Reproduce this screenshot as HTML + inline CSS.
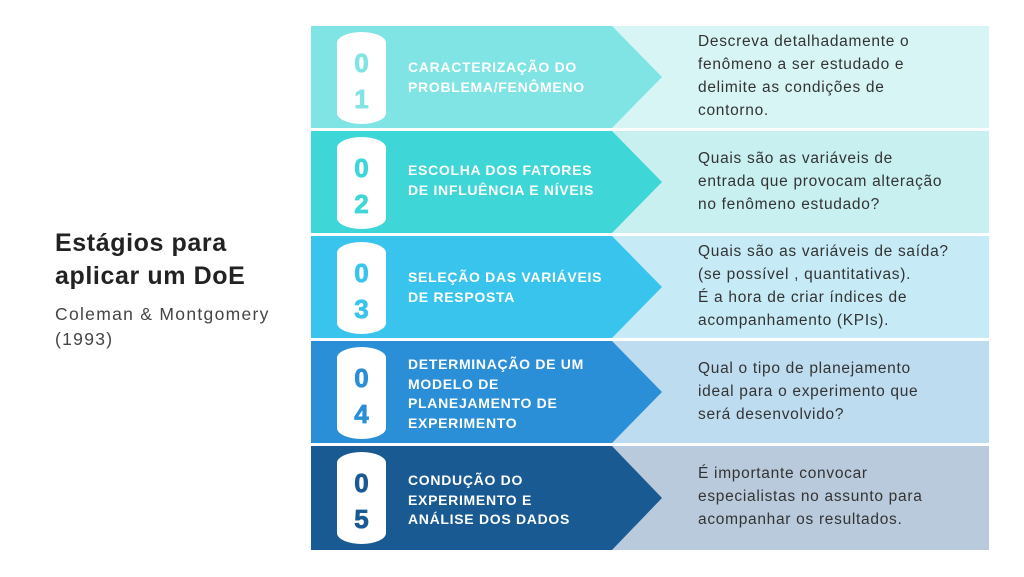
<!DOCTYPE html>
<html><head><meta charset="utf-8"><style>
body{margin:0;width:1024px;height:577px;background:#fff;position:relative;overflow:hidden;font-family:"Liberation Sans",sans-serif}
.a{position:absolute}
.row{position:absolute;left:311px;width:678px;height:102px}
.rp{position:absolute;left:0;top:0;width:678px;height:102px}
.arr{position:absolute;left:0;top:0;width:352px;height:102px;clip-path:polygon(0 0,301px 0,351px 51px,301px 102px,0 102px)}
.pill{position:absolute;left:26px;top:6px;width:49px;height:92px;background:#fff;border-radius:50% / 11px}
.pill span{position:absolute;left:0;width:49px;text-align:center;font-weight:900;font-size:26px;-webkit-text-stroke:0.8px currentColor}
.t{position:absolute;left:97px;color:#fff;font-weight:bold;font-size:14px;line-height:19.5px;letter-spacing:0.7px}
.d{position:absolute;left:387px;color:#333;font-size:15.5px;line-height:23px;letter-spacing:0.7px}
</style></head><body>
<div class="a" style="left:55px;top:227px;font-size:25px;font-weight:bold;color:#222;line-height:33px;letter-spacing:0.6px">Estágios para<br>aplicar um DoE</div>
<div class="a" style="left:55px;top:302px;font-size:17.5px;color:#444;line-height:25px;letter-spacing:1.3px">Coleman &amp; Montgomery<br>(1993)</div>

<div class="row" style="top:26px">
<div class="rp" style="background:#d8f5f5"></div>
<div class="arr" style="background:#80e4e4"></div>
<div class="pill"><span style="top:16px;color:#80e4e4">0</span><span style="top:52px;color:#80e4e4">1</span></div>
<div class="t" style="top:32px">CARACTERIZAÇÃO DO<br>PROBLEMA/FENÔMENO</div>
<div class="d" style="top:4px">Descreva detalhadamente o<br>fenômeno a ser estudado e<br>delimite as condições de<br>contorno.</div>
</div>

<div class="row" style="top:131px">
<div class="rp" style="background:#c8f0f0"></div>
<div class="arr" style="background:#3ed6d6"></div>
<div class="pill"><span style="top:16px;color:#3ed6d6">0</span><span style="top:52px;color:#3ed6d6">2</span></div>
<div class="t" style="top:30px">ESCOLHA DOS FATORES<br>DE INFLUÊNCIA E NÍVEIS</div>
<div class="d" style="top:16px">Quais são as variáveis de<br>entrada que provocam alteração<br>no fenômeno estudado?</div>
</div>

<div class="row" style="top:236px">
<div class="rp" style="background:#c6ebf6"></div>
<div class="arr" style="background:#38c4ec"></div>
<div class="pill"><span style="top:16px;color:#38c4ec">0</span><span style="top:52px;color:#38c4ec">3</span></div>
<div class="t" style="top:32px">SELEÇÃO DAS VARIÁVEIS<br>DE RESPOSTA</div>
<div class="d" style="top:4px">Quais são as variáveis de saída?<br>(se possível , quantitativas).<br>É a hora de criar índices de<br>acompanhamento (KPIs).</div>
</div>

<div class="row" style="top:341px">
<div class="rp" style="background:#bedcf0"></div>
<div class="arr" style="background:#2b8fd8"></div>
<div class="pill"><span style="top:16px;color:#2b8fd8">0</span><span style="top:52px;color:#2b8fd8">4</span></div>
<div class="t" style="top:14px">DETERMINAÇÃO DE UM<br>MODELO DE<br>PLANEJAMENTO DE<br>EXPERIMENTO</div>
<div class="d" style="top:16px">Qual o tipo de planejamento<br>ideal para o experimento que<br>será desenvolvido?</div>
</div>

<div class="row" style="top:446px;height:104px">
<div class="rp" style="background:#b9cadc;height:104px"></div>
<div class="arr" style="background:#1a5a92;height:104px;clip-path:polygon(0 0,301px 0,351px 52px,301px 104px,0 104px)"></div>
<div class="pill"><span style="top:16px;color:#1a5a92">0</span><span style="top:52px;color:#1a5a92">5</span></div>
<div class="t" style="top:25px">CONDUÇÃO DO<br>EXPERIMENTO E<br>ANÁLISE DOS DADOS</div>
<div class="d" style="top:16px">É importante convocar<br>especialistas no assunto para<br>acompanhar os resultados.</div>
</div>
</body></html>
